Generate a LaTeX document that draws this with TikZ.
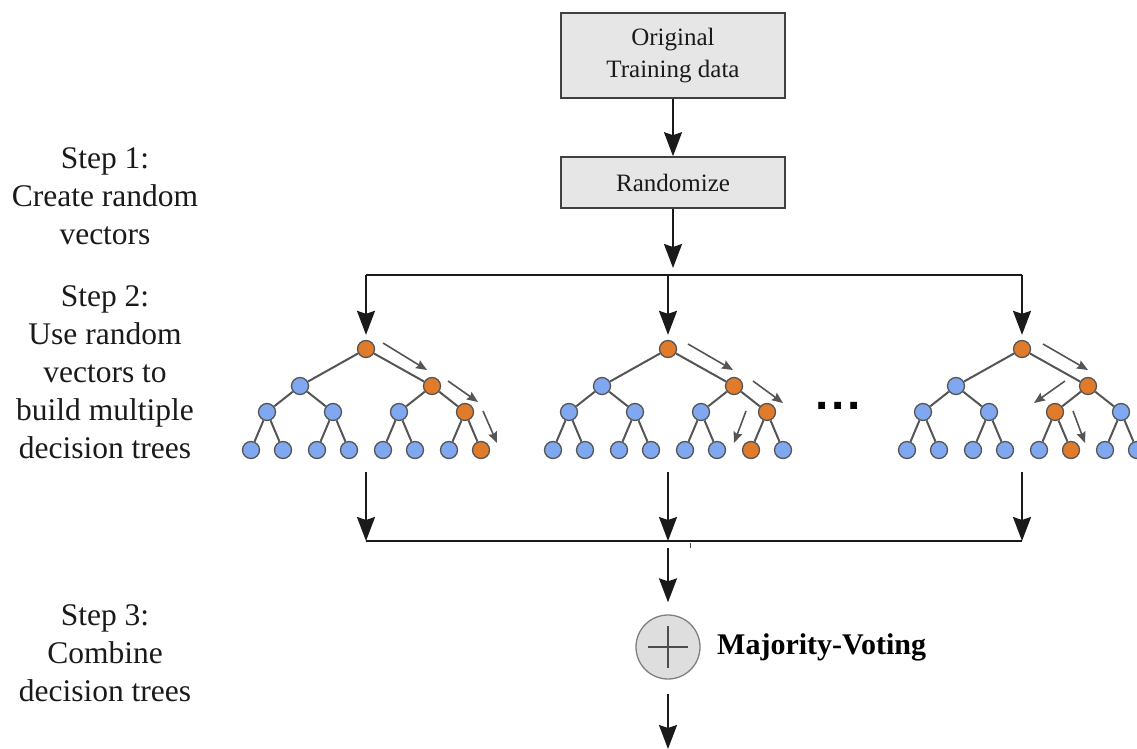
\documentclass[tikz,border=0pt]{standalone}
\usepackage{fontspec}
\setmainfont{Liberation Serif}
\newfontfamily\dotfont{Liberation Sans}
\usetikzlibrary{arrows.meta}
\definecolor{nodeblue}{HTML}{80A8F0}
\definecolor{nodeorange}{HTML}{E07B2C}
\definecolor{edgegray}{HTML}{555555}
\definecolor{boxfill}{HTML}{E6E6E6}
\definecolor{inkc}{HTML}{1A1A1A}
\tikzset{
  bnode/.style={circle, draw=edgegray, line width=1.3pt, fill=nodeblue, minimum size=17pt, inner sep=0pt},
  onode/.style={bnode, fill=nodeorange},
  n1/.style=bnode, n2/.style=bnode, n3/.style=bnode, n4/.style=bnode, n5/.style=bnode,
  n6/.style=bnode, n7/.style=bnode, n8/.style=bnode, n9/.style=bnode, n10/.style=bnode,
  n11/.style=bnode, n12/.style=bnode, n13/.style=bnode, n14/.style=bnode, n15/.style=bnode,
  tedge/.style={draw=edgegray, line width=2pt},
  flowline/.style={draw=inkc, line width=2pt},
  flow/.style={flowline, -{Stealth[length=24pt,width=18pt,inset=3pt]}},
  hint/.style={draw=edgegray, line width=1.6pt, -{Stealth[length=11pt,width=9pt,inset=1.5pt]}},
  databox/.style={draw=black!75, line width=1.6pt, fill=boxfill, minimum width=224pt, align=center,
    font=\fontsize{25}{32}\selectfont, text=inkc, inner sep=0pt},
  steptext/.style={align=center, font=\fontsize{31.5}{38}\selectfont, text=inkc},
  votecircle/.style={circle, draw=black!50, line width=1.3pt, fill=black!13, minimum size=64pt, inner sep=0pt},
}
\newcommand\rftree[2]{%
  \begin{scope}[shift={(#2,349)}]
    \node[n1] (#1-1) at (0,0) {};
    \node[n2] (#1-2) at (-66,37) {};
    \node[n3] (#1-3) at (66,37) {};
    \node[n4] (#1-4) at (-99,63) {};
    \node[n5] (#1-5) at (-33,63) {};
    \node[n6] (#1-6) at (33,63) {};
    \node[n7] (#1-7) at (99,63) {};
    \node[n8] (#1-8) at (-115,101) {};
    \node[n9] (#1-9) at (-83,101) {};
    \node[n10] (#1-10) at (-49,101) {};
    \node[n11] (#1-11) at (-17,101) {};
    \node[n12] (#1-12) at (17,101) {};
    \node[n13] (#1-13) at (49,101) {};
    \node[n14] (#1-14) at (83,101) {};
    \node[n15] (#1-15) at (115,101) {};
    \foreach \p/\c in {1/2,1/3,2/4,2/5,3/6,3/7,4/8,4/9,5/10,5/11,6/12,6/13,7/14,7/15}
      \draw[tedge] (#1-\p) -- (#1-\c);
  \end{scope}}
\begin{document}
\begin{tikzpicture}[x=1pt,y=-1pt]
\useasboundingbox (0,0) rectangle (1137,749);

% left step texts
\node[steptext] (s1) at (105,196) {Step 1:\\Create random\\vectors};
\node[steptext] (s2) at (105,372) {Step 2:\\Use random\\vectors to\\build multiple\\decision trees};
\node[steptext] (s3) at (105,653) {Step 3:\\Combine\\decision trees};

% boxes
\node[databox, minimum height=85pt] (orig) at (673,55.5) {Original\\Training data};
\node[databox, minimum height=51pt] (rand) at (673,182.5) {Randomize};
\draw[flow] (orig) -- (rand);
\coordinate (randtip) at (673,268);
\draw[flow] (rand) -- (randtip);

% distribution line
\coordinate (dl) at (366,275);
\coordinate (dm) at (668,275);
\coordinate (dr) at (1022,275);
\draw[flowline] (dl) -- (dr);

% trees
\begin{scope}[n1/.style=onode, n3/.style=onode, n7/.style=onode, n15/.style=onode]
  \rftree{ta}{366}
\end{scope}
\begin{scope}[n1/.style=onode, n3/.style=onode, n7/.style=onode, n14/.style=onode]
  \rftree{tb}{668}
\end{scope}
\begin{scope}[n1/.style=onode, n3/.style=onode, n6/.style=onode, n13/.style=onode]
  \rftree{tc}{1022}
\end{scope}

\draw[flow, shorten >=5pt] (dl) -- (ta-1);
\draw[flow, shorten >=5pt] (dm) -- (tb-1);
\draw[flow, shorten >=5pt] (dr) -- (tc-1);

% traversal hints
\coordinate (ha1) at (383,343); \coordinate (ha2) at (427,370);
\coordinate (ha3) at (448,381); \coordinate (ha4) at (478,402);
\coordinate (ha5) at (483,411); \coordinate (ha6) at (497,443);
\draw[hint] (ha1) -- (ha2);
\draw[hint] (ha3) -- (ha4);
\draw[hint] (ha5) -- (ha6);
\coordinate (hb1) at (688,344); \coordinate (hb2) at (733,370);
\coordinate (hb3) at (753,381); \coordinate (hb4) at (783,403);
\coordinate (hb5) at (746,411); \coordinate (hb6) at (734,443);
\draw[hint] (hb1) -- (hb2);
\draw[hint] (hb3) -- (hb4);
\draw[hint] (hb5) -- (hb6);
\coordinate (hc1) at (1043,344); \coordinate (hc2) at (1088,370);
\coordinate (hc3) at (1065,381); \coordinate (hc4) at (1034,403);
\coordinate (hc5) at (1073,411); \coordinate (hc6) at (1085,443);
\draw[hint] (hc1) -- (hc2);
\draw[hint] (hc3) -- (hc4);
\draw[hint] (hc5) -- (hc6);

% ellipsis
\node[anchor=base, inner sep=0pt, font=\dotfont\bfseries\fontsize{48}{48}\selectfont, text=black] (dots) at (838,409) {.\hspace{3pt}.\hspace{3pt}.};

% collection
\coordinate (ca) at (366,472); \coordinate (cal) at (366,541);
\coordinate (cb) at (668,472); \coordinate (cbl) at (668,541);
\coordinate (cc) at (1022,472); \coordinate (ccl) at (1022,541);
\draw[flow] (ca) -- (cal);
\draw[flow] (cb) -- (cbl);
\draw[flow] (cc) -- (ccl);
\draw[flowline] (cal) -- (ccl);
\coordinate (tk1) at (690,543); \coordinate (tk2) at (690,548);
\draw[line width=1pt, black!70] (tk1) -- (tk2);

% voting
\node[votecircle] (vote) at (668,647) {};
\draw[line width=1.4pt, black!70] ([xshift=-20pt]vote.center) -- ([xshift=20pt]vote.center);
\draw[line width=1.4pt, black!70] ([yshift=-21pt]vote.center) -- ([yshift=21pt]vote.center);
\node[anchor=west, inner sep=0pt, font=\bfseries\fontsize{30}{36}\selectfont, text=black] (mv) at (717,647) {Majority-Voting};
\coordinate (vin) at (668,548);
\draw[flow, shorten >=12pt] (vin) -- (vote);
\coordinate (vout) at (668,749);
\draw[flow, shorten <=14pt] (vote) -- (vout);
\end{tikzpicture}
\end{document}
